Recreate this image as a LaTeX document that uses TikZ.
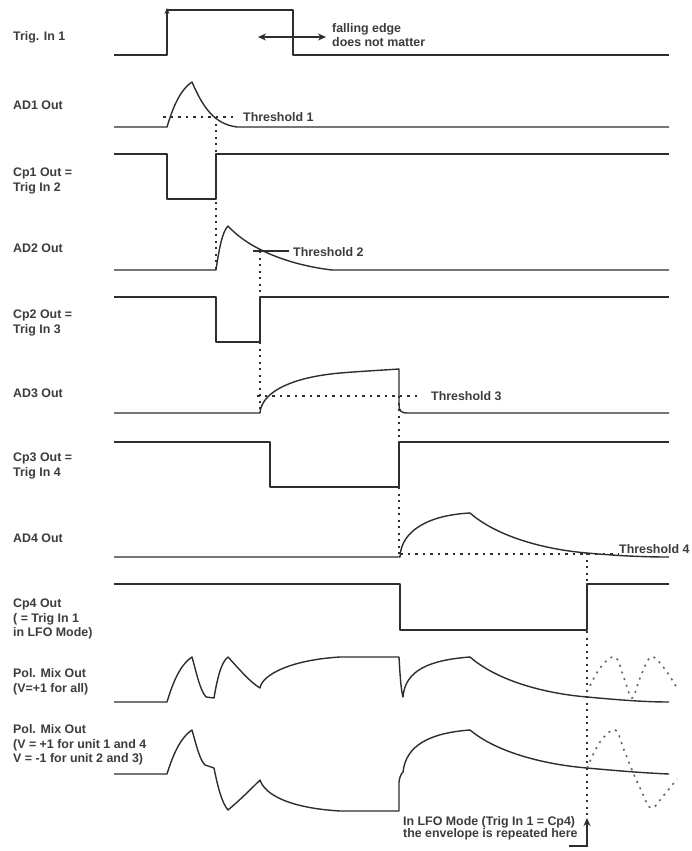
\documentclass[tikz,border=0pt]{standalone}
\usepackage{fontspec}
\setmainfont{Liberation Sans}
\usetikzlibrary{arrows.meta}
\definecolor{ink}{HTML}{2E2E2E}
\definecolor{txt}{HTML}{3C3C3C}
\tikzset{
  wave/.style={draw=ink, line width=1.4pt, line join=round},
  thr/.style={draw=ink, line width=1.4pt, dash pattern=on 2.5pt off 5pt},
  guide/.style={draw=ink, line width=1.4pt, dash pattern=on 2pt off 4.5pt},
  lfo/.style={draw=ink!75, line width=1.6pt, dash pattern=on 2pt off 5pt},
  lbl/.style={anchor=west, inner sep=0pt, text=txt, align=left,
    font=\fontsize{12.4}{14.7}\selectfont\bfseries},
  tlbl/.style={anchor=west, inner sep=0pt, text=txt,
    font=\fontsize{12.4}{14}\selectfont\bfseries},
}
\begin{document}
\begin{tikzpicture}[x=1pt,y=-1pt]
\useasboundingbox (0,0) rectangle (692,851);
\fill[white] (0,0) rectangle (692,851);

% labels
\node[lbl] (l1) at (13,37) {Trig. In 1};
\node[lbl] (l2) at (13,105) {AD1 Out};
\node[lbl] (l3) at (13,181) {Cp1 Out =\\Trig In 2};
\node[lbl] (l4) at (13,248) {AD2 Out};
\node[lbl] (l5) at (13,323) {Cp2 Out =\\Trig In 3};
\node[lbl] (l6) at (13,393) {AD3 Out};
\node[lbl] (l7) at (13,466) {Cp3 Out =\\Trig In 4};
\node[lbl] (l8) at (13,538) {AD4 Out};
\node[lbl] (l9) at (13,619) {Cp4 Out\\( = Trig In 1\\in LFO Mode)};
\node[lbl] (l10) at (13,682) {Pol. Mix Out\\(V=+1 for all)};
\node[lbl] (l11) at (13,745) {Pol. Mix Out\\(V = +1 for unit 1 and 4\\V = -1 for unit 2 and 3)};

% Trig In 1
\draw[wave] (114,55) -- (167,55) -- (167,10) -- (293,10) -- (293,55) -- (669,55);
\draw[ink, line width=1.2pt, -{Stealth[length=6pt,width=5pt]}] (167,20) -- (167,8);
\coordinate (fa) at (258,37);
\coordinate (fb) at (326,37);
\draw[ink, line width=1.4pt, {Stealth[length=8pt,width=7pt]}-{Stealth[length=8pt,width=7pt]}] (fa) -- (fb);
\node[tlbl, align=left] (fe) at (332,35) {falling edge\\does not matter};

% AD1
\draw[wave] (114,127) -- (167,127) .. controls (175,100) and (183,88) .. (192,82)
  .. controls (202,105) and (213,124) .. (237,127) -- (669,127);
\draw[thr] (163,117) -- (237,117);
\node[tlbl] (t1) at (243,117) {Threshold 1};
\draw[guide] (216,117) -- (216,270);

% Cp1
\draw[wave] (114,154) -- (167,154) -- (167,199) -- (216,199) -- (216,154) -- (669,154);

% AD2
\draw[wave] (114,270) -- (216,270) .. controls (219,250) and (222,232) .. (228,226)
  .. controls (250,250) and (290,265) .. (332,270) -- (669,270);
\draw[ink, line width=1.2pt] (253,251) -- (289,251);
\node[tlbl] (t2) at (293,252) {Threshold 2};
\draw[guide] (260,251) -- (260,413);

% Cp2
\draw[wave] (114,297) -- (216,297) -- (216,342) -- (260,342) -- (260,297) -- (669,297);

% AD3
\draw[wave] (114,413) -- (260,413) .. controls (261,395) and (285,378) .. (340,373)
  .. controls (365,371) and (385,370) .. (399,369) -- (399,405)
  .. controls (399,411) and (401,413) .. (408,413) -- (669,413);
\draw[thr] (257,396) -- (421,396);
\node[tlbl] (t3) at (431,396) {Threshold 3};
\draw[guide] (399,396) -- (399,557);

% Cp3
\draw[wave] (114,442) -- (270,442) -- (270,487) -- (399,487) -- (399,442) -- (669,442);

% AD4
\draw[wave] (114,557) -- (400,557) .. controls (401,530) and (430,515) .. (470,513)
  .. controls (495,535) and (540,549) .. (587,553)
  .. controls (620,556) and (645,557) .. (669,557);
\draw[thr] (400,554) -- (618,554);
\node[tlbl] (t4) at (619,549) {Threshold 4};
\draw[guide] (587,553) -- (587,816);

% Cp4
\draw[wave] (114,584) -- (400,584) -- (400,630) -- (587,630) -- (587,584) -- (669,584);

% Pol. Mix Out 1
\draw[wave] (114,702) -- (167,702) .. controls (175,675) and (183,663) .. (192,657)
  .. controls (197,675) and (200,690) .. (206,697) -- (214,698)
  .. controls (217,680) and (221,662) .. (228,657)
  .. controls (240,670) and (250,682) .. (260,688)
  .. controls (262,675) and (290,660) .. (340,657) -- (399,657)
  .. controls (400,675) and (401,690) .. (403,697)
  .. controls (405,670) and (430,660) .. (470,657)
  .. controls (495,679) and (540,693) .. (587,697)
  .. controls (620,700) and (645,702) .. (669,702);
\draw[lfo] plot[smooth, tension=0.6] coordinates {(587,692) (600,668) (615,657) (624,678) (632,698) (640,678) (651,657) (664,668) (677,688)};

% Pol. Mix Out 2
\draw[wave] (114,774) -- (167,774) .. controls (175,748) and (183,736) .. (192,730)
  .. controls (197,748) and (200,760) .. (205,765) -- (214,768)
  .. controls (218,788) and (222,803) .. (228,810)
  .. controls (240,800) and (250,790) .. (260,780)
  .. controls (265,795) and (290,808) .. (340,811) -- (399,811) -- (399,782)
  .. controls (400,775) and (402,773) .. (403,772)
  .. controls (406,745) and (430,733) .. (470,730)
  .. controls (495,751) and (540,764) .. (587,768)
  .. controls (620,771) and (645,773) .. (669,774);
\draw[lfo] plot[smooth, tension=0.6] coordinates {(587,768) (600,742) (615,730) (624,750) (632,770) (641,790) (651,808) (664,795) (677,779)};

% bottom note
\node[lbl, font=\fontsize{12.4}{12}\selectfont\bfseries] (note) at (403,828) {In LFO Mode (Trig In 1 = Cp4)\\the envelope is repeated here};
\coordinate (ar0) at (569,846);
\coordinate (ar1) at (587,846);
\coordinate (ar2) at (587,818);
\draw[ink, line width=1.4pt, -{Stealth[length=8pt,width=7pt]}] (ar0) -- (ar1) -- (ar2);
\end{tikzpicture}
\end{document}
